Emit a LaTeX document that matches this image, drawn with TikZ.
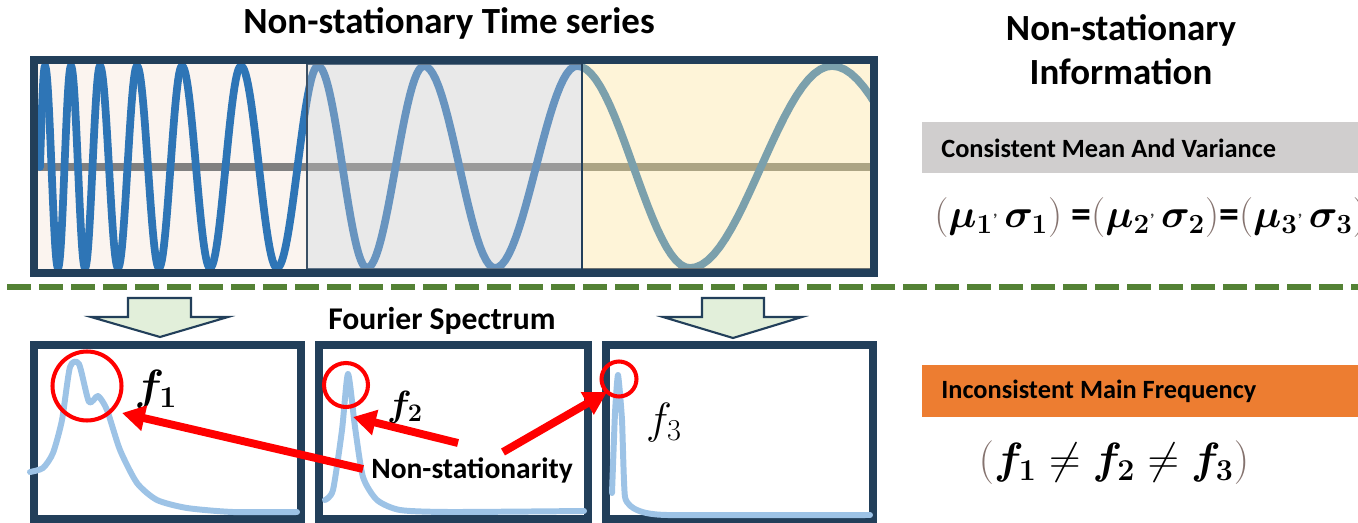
\documentclass[tikz,border=0pt]{standalone}
\usepackage{graphicx}
\usepackage{amsmath,bm}
\usepackage{fontspec}
\setmainfont{Carlito}
\usetikzlibrary{arrows.meta}
\definecolor{navy}{HTML}{223F5A}
\definecolor{pone}{HTML}{FBF4EF}
\definecolor{ptwo}{HTML}{E9E9E9}
\definecolor{pthree}{HTML}{FEF4D8}
\definecolor{wone}{HTML}{2E75B6}
\definecolor{wtwo}{HTML}{6894BF}
\definecolor{wthree}{HTML}{7BA0AC}
\definecolor{mone}{HTML}{808080}
\definecolor{mtwo}{HTML}{9A9A9A}
\definecolor{mthree}{HTML}{ACA484}
\definecolor{specblue}{HTML}{9DC3E6}
\definecolor{dgreen}{HTML}{548235}
\definecolor{lgreen}{HTML}{E2EFDA}
\definecolor{graybox}{HTML}{D0CECE}
\definecolor{orangebox}{HTML}{ED7D31}
\definecolor{parc}{HTML}{85736F}
\newcommand\wavesegs{%
  \draw plot[domain=0:90,samples=10] ({40+5*(\x/90)},{167-101*sin(\x)});
  \foreach \a/\b/\sg in {45/58/1,58/71/-1,71/85/1,85/100/-1,100/118/1,118/137/-1,137/159/1,159/182/-1,182/210/1,210/241/-1,241/277/1,277/318/-1,318/367/1,367/424/-1,424/495/1,495/577/-1,577/690/1,690/832/-1,832/984/1}
    {\draw plot[domain=0:180,samples=25] ({\a+(\b-\a)*(\x/180)},{167-\sg*101*cos(\x)});}
}
\newcommand\pl{\textcolor{parc}{(}}
\newcommand\pr{\textcolor{parc}{)}}
\newcommand\cmm{\raisebox{0.3em}{\textcolor{black!75}{\small\bfseries ,}}}
\tikzset{
  ttl/.style={font=\bfseries\fontsize{21}{25}\selectfont, inner sep=0pt, align=center},
  lbl/.style={font=\bfseries\fontsize{16}{19}\selectfont, inner sep=0pt},
  specbox/.style={draw=navy, line width=4.5pt},
  spec/.style={specblue, line width=3.4pt, line join=round, line cap=round},
  ring/.style={circle, draw=red, line width=2.3pt, inner sep=0pt},
  redarrow/.style={red, line width=4.5pt, -{Triangle[length=13pt,width=14pt]}},
  blockarrow/.style={fill=lgreen, draw=navy, line width=1.2pt, line join=miter},
  wave/.style={line width=4.4pt, line cap=round, line join=round}
}
\begin{document}
\begin{tikzpicture}[x=0.02cm,y=-0.02cm]
\useasboundingbox (0,0) rectangle (1358,523);
% titles
\node[ttl] (t1) at (449,23) {Non-stationary Time series};
\node[ttl] (t2) at (1121,50) {Non-stationary\\Information};
% top panels
\fill[pone] (38,64) rectangle (307,270);
\fill[ptwo] (307,64) rectangle (582,270);
\fill[pthree] (582,64) rectangle (872,270);
\draw[mone, line width=4pt] (38,167) -- (307,167);
\draw[mtwo, line width=4pt] (307,167) -- (582,167);
\draw[mthree, line width=4pt] (582,167) -- (872,167);
\begin{scope}
  \clip (38,64) rectangle (307,270);
  \begin{scope}[wave, color=wone] \wavesegs \end{scope}
\end{scope}
\begin{scope}
  \clip (307,64) rectangle (582,270);
  \begin{scope}[wave, color=wtwo] \wavesegs \end{scope}
\end{scope}
\begin{scope}
  \clip (582,64) rectangle (872,270);
  \begin{scope}[wave, color=wthree] \wavesegs \end{scope}
\end{scope}
\draw[color={rgb,255:red,95;green,115;blue,135}, line width=1pt] (307,64) rectangle (582,269);
\draw[color={rgb,255:red,110;green,114;blue,114}, line width=1.5pt] (582,269) -- (871,269) -- (871,64);
\draw[color={rgb,255:red,60;green,80;blue,100}, line width=1.3pt] (307,64) -- (307,270);
\draw[navy, line width=1.5pt] (582,64) -- (582,270);
\draw[navy, line width=4.5pt] (34,60) rectangle (874,273);
% dashed separator
\draw[dgreen, line width=3.4pt, dash pattern=on 24*0.02cm off 8*0.02cm] (7,287) -- (1358,287);
% block arrows
\draw[blockarrow] (128,298) -- (191,298) -- (191,317) -- (228,317) -- (160,337) -- (91,317) -- (128,317) -- cycle;
\draw[blockarrow] (702,298) -- (764,298) -- (764,317) -- (802,317) -- (733,338) -- (663,317) -- (702,317) -- cycle;
\node[lbl, font=\bfseries\fontsize{18}{21}\selectfont] (fs) at (442,321) {Fourier Spectrum};
% spectrum boxes
\draw[specbox] (34,345) rectangle (301,519);
\draw[specbox] (319,345) rectangle (588,519);
\draw[specbox] (606,345) rectangle (873,519);
\draw[spec] plot[smooth, tension=0.4] coordinates {(30,472) (43,468) (53,453) (62,420) (70,367) (79,364) (89,402) (98,396) (107,410) (120,450) (137,483) (157,500) (187,508) (233,512) (297,512)};
\draw[spec] plot[smooth, tension=0.4] coordinates {(325,500) (333,490) (342,430) (348,374) (355,427) (363,477) (377,500) (400,510) (450,512) (584,511)};
\draw[spec] plot[smooth, tension=0.3] coordinates {(612,493) (615,413) (618,375) (622,420) (625,497) (637,510) (667,515) (870,515)};
% rings
\node[ring, minimum size=1.38cm] (c1) at (87,386) {};
\node[ring, minimum size=0.88cm] (c2) at (346,385) {};
\node[ring, minimum size=0.70cm] (c3) at (619,379) {};
% f labels
\node[inner sep=0pt, font=\fontsize{25}{30}\selectfont] (f1) at (156,390) {$\bm{f_1}$};
\node[inner sep=0pt, font=\fontsize{21}{25}\selectfont] (f2) at (405,407) {$\bm{f_2}$};
\node[inner sep=0pt, font=\fontsize{23}{27}\selectfont] (f3) at (664,423) {$f_3$};
% non-stationarity
\node[lbl, inner sep=1pt, font=\bfseries\fontsize{16.8}{20}\selectfont] (ns) at (472,470) {Non-stationarity};
\coordinate (s1) at (363,469);
\coordinate (e1) at (122,413);
\coordinate (s2) at (458,443);
\coordinate (e2) at (353,417);
\coordinate (s3) at (503,452);
\coordinate (e3) at (607,392);
\draw[redarrow] (s1) -- (e1);
\draw[redarrow] (s2) -- (e2);
\draw[redarrow] (s3) -- (e3);
% right column
\fill[graybox] (922,122) rectangle (1358,173);
\node[lbl, anchor=west, font=\bfseries\fontsize{15}{18}\selectfont] (cmv) at (941,148) {Consistent Mean And Variance};
\node[anchor=west, inner sep=0pt, font=\fontsize{20.74}{25}\selectfont] (eq1) at (934,218)
  {\scalebox{1.094}{$\pl\bm{\mu_1}\cmm\,\bm{\sigma_1}\pr\ \text{\bfseries =}\pl\bm{\mu_2}\cmm\,\bm{\sigma_2}\pr\text{\bfseries =}\pl\bm{\mu_3}\cmm\,\bm{\sigma_3}\pr$}};
\fill[orangebox] (922,365) rectangle (1358,417);
\node[lbl, anchor=west, font=\bfseries\fontsize{15}{18}\selectfont] (imf) at (941,391) {Inconsistent Main Frequency};
\node[inner sep=0pt, font=\fontsize{25}{30}\selectfont] (eq2) at (1114,463)
  {$\pl\bm{f_1}\neq\bm{f_2}\neq\bm{f_3}\pr$};
\end{tikzpicture}
\end{document}
